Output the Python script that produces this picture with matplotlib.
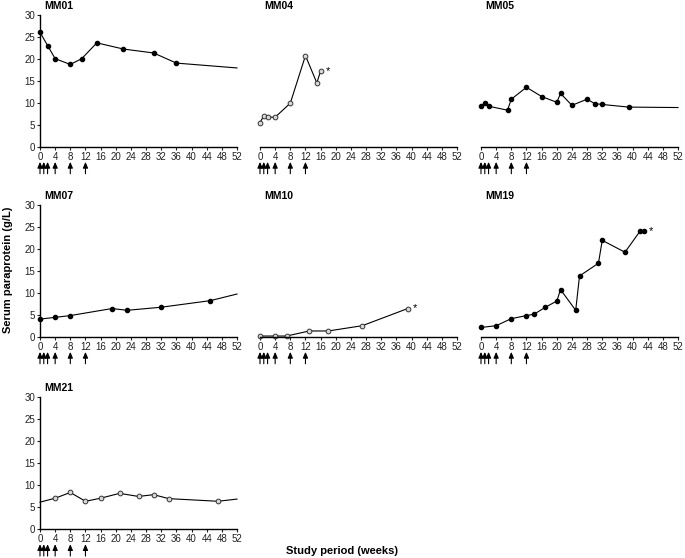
"""Serum paraprotein per patient over the study period, 7 small panels."""

import matplotlib
matplotlib.use('Agg')
import matplotlib.pyplot as plt
from matplotlib.transforms import blended_transform_factory

plt.rcParams['font.family'] = ['Liberation Sans', 'DejaVu Sans']

# weeks / values; last point of some series is only the line running to the edge
mm01_weeks = [0, 2, 4, 8, 11, 15, 22, 30, 36, 52]
mm01_vals = [26.0, 23.0, 20.0, 18.7, 20.0, 23.6, 22.2, 21.3, 19.0, 17.9]

mm04_weeks = [0, 1, 2, 4, 8, 12, 15, 16]
mm04_vals = [5.5, 7.0, 6.7, 6.7, 9.9, 20.7, 14.5, 17.2]

mm05_weeks = [0, 1, 2, 7, 8, 12, 16, 20, 21, 24, 28, 30, 32, 39, 52]
mm05_vals = [9.2, 10.0, 9.2, 8.3, 10.8, 13.5, 11.4, 10.1, 12.1, 9.4, 10.8, 9.8, 9.6, 9.0, 8.9]

mm07_weeks = [0, 4, 8, 19, 23, 32, 45, 52]
mm07_vals = [4.0, 4.4, 4.8, 6.4, 6.0, 6.7, 8.2, 9.7]

mm10_weeks = [0, 4, 7, 13, 18, 27, 39]
mm10_vals = [0.15, 0.15, 0.15, 1.3, 1.3, 2.5, 6.4]

mm19_weeks = [0, 4, 8, 12, 14, 17, 20, 21, 25, 26, 31, 32, 38, 42, 43]
mm19_vals = [2.1, 2.5, 4.1, 4.8, 5.1, 6.7, 8.1, 10.7, 6.0, 13.8, 16.7, 21.9, 19.2, 24.0, 24.0]

mm21_weeks = [0, 4, 8, 12, 16, 21, 26, 30, 34, 47, 52]
mm21_vals = [6.1, 7.0, 8.3, 6.3, 7.0, 8.1, 7.4, 7.8, 6.9, 6.3, 6.8]

dose_weeks = [0, 1, 2, 4, 8, 12]
x_ticks = list(range(0, 53, 4))
y_ticks = list(range(0, 31, 5))

W, H = 685, 558
fig = plt.figure(figsize=(W / 100, H / 100), dpi=100)

col_left = [40, 260, 481]
row_bottom = [146.7, 336.7, 529]
ax_w, ax_h = 197, 132


def make_axes(row, col):
    left = col_left[col] / W
    bottom = 1 - row_bottom[row] / H
    return fig.add_axes([left, bottom, ax_w / W, ax_h / H])


# name, row, col, weeks, vals, filled, markevery, star
panels = [
    ('MM01', 0, 0, mm01_weeks, mm01_vals, True, slice(0, -1), False),
    ('MM04', 0, 1, mm04_weeks, mm04_vals, False, None, True),
    ('MM05', 0, 2, mm05_weeks, mm05_vals, True, slice(0, -1), False),
    ('MM07', 1, 0, mm07_weeks, mm07_vals, True, slice(0, -1), False),
    ('MM10', 1, 1, mm10_weeks, mm10_vals, False, None, True),
    ('MM19', 1, 2, mm19_weeks, mm19_vals, True, None, True),
    ('MM21', 2, 0, mm21_weeks, mm21_vals, False, slice(1, -1), False),
]

for name, row, col, weeks, vals, filled, mevery, star in panels:
    ax = make_axes(row, col)
    if filled:
        ax.plot(weeks, vals, color='black', lw=0.8, marker='o', ms=3.0,
                mfc='black', mec='black', markevery=mevery, clip_on=False)
    else:
        ax.plot(weeks, vals, color='black', lw=0.8, marker='o', ms=3.4,
                mfc='#d8d8d8', mec='#333333', mew=0.7, markevery=mevery, clip_on=False)
    if star:
        ax.text(weeks[-1] + 1.3, vals[-1], '*', fontsize=8, va='center', ha='left')

    ax.set_xlim(0, 52)
    ax.set_ylim(0, 30)
    ax.set_xticks(x_ticks)
    ax.set_yticks(y_ticks)
    ax.tick_params(labelsize=7, length=2, width=0.8, pad=1.5, colors='#222222')
    for side in ('top', 'right'):
        ax.spines[side].set_visible(False)
    ax.spines['bottom'].set_linewidth(1.0)
    if col == 0:
        ax.spines['left'].set_linewidth(1.0)
    else:
        ax.spines['left'].set_visible(False)
        ax.tick_params(axis='y', left=False, labelleft=False)

    ax.text(0.02, 1.03, name, transform=ax.transAxes, fontsize=7.5,
            fontweight='bold', ha='left', va='bottom')

    # treatment doses as arrows under the week axis
    trans = blended_transform_factory(ax.transData, ax.transAxes)
    for w in dose_weeks:
        ax.annotate('', xy=(w, -0.115), xytext=(w, -0.205),
                    xycoords=trans, textcoords=trans,
                    arrowprops=dict(arrowstyle='-|>,head_length=0.35,head_width=0.15',
                                    color='black', lw=0.8, shrinkA=0, shrinkB=0),
                    annotation_clip=False)

fig.text(8 / W, 1 - 270 / H, 'Serum paraprotein (g/L)', rotation=90,
         fontsize=8, fontweight='bold', ha='center', va='center')
fig.text(342 / W, 1 - 551 / H, 'Study period (weeks)',
         fontsize=8, fontweight='bold', ha='center', va='center')

fig.savefig('out.png', dpi=100)
